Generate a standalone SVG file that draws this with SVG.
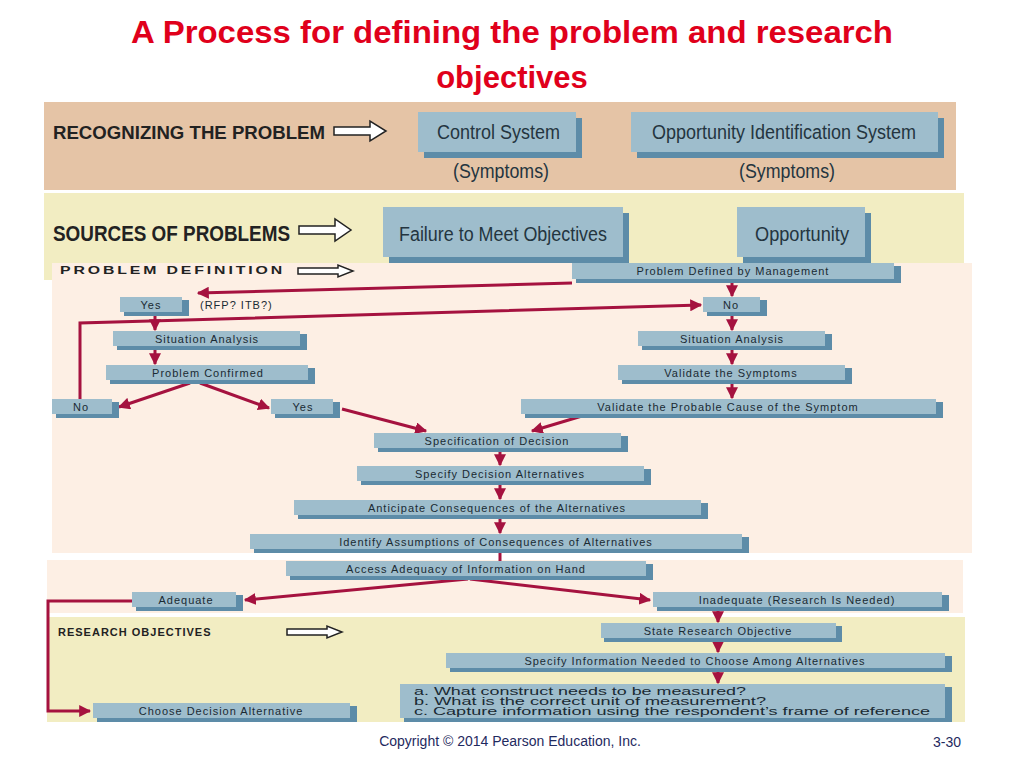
<svg xmlns="http://www.w3.org/2000/svg" width="1024" height="768" viewBox="0 0 1024 768">
<defs>
<style>
.b{fill:#9ebdcc}.s{fill:#5d8ca8}
.t{font-family:"Liberation Sans",Arial,sans-serif;fill:#1a2a33;text-anchor:middle;font-size:11px;letter-spacing:1px}
.l{font-family:"Liberation Sans",Arial,sans-serif;fill:#1a2a33;font-size:11px}
.big{font-family:"Liberation Sans",sans-serif;fill:#243540;font-size:20px}
.hd{font-family:"Liberation Sans",sans-serif;font-weight:bold;fill:#222}
.c{stroke:#a5123f;stroke-width:3;fill:none}
.ha{fill:#fff;stroke:#222;stroke-width:1.5}
</style>
<marker id="a" viewBox="0 0 10 10" refX="9" refY="5" markerWidth="4" markerHeight="4" orient="auto"><path d="M0,0L10,5L0,10z" fill="#a5123f"/></marker>
</defs>
<rect width="1024" height="768" fill="#fff"/>
<text x="512" y="43" text-anchor="middle" font-family="Liberation Sans,sans-serif" font-weight="bold" font-size="31" fill="#e0001b" textLength="762" lengthAdjust="spacingAndGlyphs">A Process for defining the problem and research</text>
<text x="512" y="88" text-anchor="middle" font-family="Liberation Sans,sans-serif" font-weight="bold" font-size="31" fill="#e0001b">objectives</text>
<rect x="44" y="102" width="912" height="88" fill="#e5c4a6"/>
<rect x="44" y="193" width="920" height="87" fill="#f2edc2"/>
<rect x="52" y="263" width="920" height="290" fill="#fdefe4"/>
<rect x="47" y="560" width="916" height="53" fill="#fdefe4"/>
<rect x="47" y="617" width="918" height="105" fill="#f2edc2"/>
<text class="hd" x="53" y="139" font-size="19" textLength="272" lengthAdjust="spacingAndGlyphs">RECOGNIZING THE PROBLEM</text>
<path class="ha" d="M334,127h36v-6l16,10l-16,10v-6h-36z"/>
<text class="hd" x="53" y="241" font-size="22" textLength="237" lengthAdjust="spacingAndGlyphs">SOURCES OF PROBLEMS</text>
<path class="ha" d="M299,226h36v-7l16,11l-16,11v-7h-36z"/>
<text class="hd" x="60" y="274" font-size="11" textLength="225" lengthAdjust="spacingAndGlyphs" letter-spacing="2">PROBLEM  DEFINITION</text>
<path class="ha" d="M298,268h40v-3l15,6l-15,6v-3h-40z" stroke-width="1"/>
<text class="hd" x="58" y="636" font-size="11" letter-spacing="1">RESEARCH OBJECTIVES</text>
<path class="ha" d="M287,629h40v-3l15,6l-15,6v-3h-40z" stroke-width="1"/>
<text x="453" y="178" class="big" font-size="19" textLength="96" lengthAdjust="spacingAndGlyphs">(Symptoms)</text>
<text x="739" y="178" class="big" font-size="19" textLength="96" lengthAdjust="spacingAndGlyphs">(Symptoms)</text>
<text x="200" y="309" font-family="Liberation Sans,sans-serif" font-size="11" letter-spacing="1" fill="#1a2a33">(RFP? ITB?)</text>
<g id="connectors">
<path class="c" marker-end="url(#a)" d="M572,283L198,293"/>
<path class="c" marker-end="url(#a)" d="M80,406V323L701,305"/>
<path class="c" marker-end="url(#a)" d="M732,281v15"/>
<path class="c" marker-end="url(#a)" d="M732,314v16"/>
<path class="c" marker-end="url(#a)" d="M732,348v16"/>
<path class="c" marker-end="url(#a)" d="M732,382v16"/>
<path class="c" marker-end="url(#a)" d="M155,313v17"/>
<path class="c" marker-end="url(#a)" d="M155,348v16"/>
<path class="c" marker-end="url(#a)" d="M190,383L119,407"/>
<path class="c" marker-end="url(#a)" d="M200,383L269,408"/>
<path class="c" marker-end="url(#a)" d="M342,409L426,431"/>
<path class="c" marker-end="url(#a)" d="M582,416L532,431"/>
<path class="c" marker-end="url(#a)" d="M500,450v15"/>
<path class="c" marker-end="url(#a)" d="M500,483v16"/>
<path class="c" marker-end="url(#a)" d="M500,517v16"/>
<path class="c" d="M500,551v10"/>
<path class="c" marker-end="url(#a)" d="M468,579L245,600"/>
<path class="c" marker-end="url(#a)" d="M470,579L650,600"/>
<path class="c" marker-end="url(#a)" d="M132,601H48V711H90"/>
<path class="c" marker-end="url(#a)" d="M718,610v12"/>
<path class="c" marker-end="url(#a)" d="M718,641v11"/>
<path class="c" marker-end="url(#a)" d="M718,671v12"/>
</g>
<g id="n1"><rect class="s" x="424" y="118" width="158" height="40"/><rect class="b" x="418" y="112" width="158" height="40"/><text class="big" x="437" y="139" textLength="123" lengthAdjust="spacingAndGlyphs">Control System</text></g>
<g id="n2"><rect class="s" x="637" y="118" width="307" height="40"/><rect class="b" x="631" y="112" width="307" height="40"/><text class="big" x="652" y="139" textLength="264" lengthAdjust="spacingAndGlyphs">Opportunity Identification System</text></g>
<g id="n3"><rect class="s" x="389" y="213" width="240" height="50"/><rect class="b" x="383" y="207" width="240" height="50"/><text class="big" x="399" y="241" font-size="23" textLength="208" lengthAdjust="spacingAndGlyphs">Failure to Meet Objectives</text></g>
<g id="n4"><rect class="s" x="743" y="213" width="128" height="50"/><rect class="b" x="737" y="207" width="128" height="50"/><text class="big" x="755" y="241" font-size="23" textLength="94" lengthAdjust="spacingAndGlyphs">Opportunity</text></g>
<g id="n5"><rect class="s" x="576" y="266" width="325" height="17"/><rect class="b" x="572" y="263" width="322" height="16"/><text class="t" x="733" y="275">Problem Defined by Management</text></g>
<g id="n6"><rect class="s" x="124" y="300" width="65" height="16"/><rect class="b" x="120" y="297" width="62" height="15"/><text class="t" x="151" y="309">Yes</text></g>
<g id="n7"><rect class="s" x="707" y="300" width="60" height="16"/><rect class="b" x="703" y="297" width="57" height="15"/><text class="t" x="731" y="309">No</text></g>
<g id="n8"><rect class="s" x="117" y="334" width="190" height="16"/><rect class="b" x="113" y="331" width="187" height="15"/><text class="t" x="207" y="343">Situation Analysis</text></g>
<g id="n9"><rect class="s" x="642" y="334" width="190" height="16"/><rect class="b" x="638" y="331" width="187" height="15"/><text class="t" x="732" y="343">Situation Analysis</text></g>
<g id="n10"><rect class="s" x="110" y="368" width="205" height="16"/><rect class="b" x="106" y="365" width="202" height="15"/><text class="t" x="208" y="377">Problem Confirmed</text></g>
<g id="n11"><rect class="s" x="622" y="368" width="230" height="16"/><rect class="b" x="618" y="365" width="227" height="15"/><text class="t" x="731" y="377">Validate the Symptoms</text></g>
<g id="n12"><rect class="s" x="56" y="402" width="63" height="16"/><rect class="b" x="52" y="399" width="60" height="15"/><text class="t" x="81" y="411">No</text></g>
<g id="n13"><rect class="s" x="275" y="402" width="65" height="16"/><rect class="b" x="271" y="399" width="62" height="15"/><text class="t" x="303" y="411">Yes</text></g>
<g id="n14"><rect class="s" x="525" y="402" width="418" height="16"/><rect class="b" x="521" y="399" width="415" height="15"/><text class="t" x="728" y="411">Validate the Probable Cause of the Symptom</text></g>
<g id="n15"><rect class="s" x="378" y="436" width="250" height="16"/><rect class="b" x="374" y="433" width="247" height="15"/><text class="t" x="497" y="445">Specification of Decision</text></g>
<g id="n16"><rect class="s" x="361" y="469" width="290" height="16"/><rect class="b" x="357" y="466" width="287" height="15"/><text class="t" x="500" y="478">Specify Decision Alternatives</text></g>
<g id="n17"><rect class="s" x="298" y="503" width="410" height="16"/><rect class="b" x="294" y="500" width="407" height="15"/><text class="t" x="497" y="512">Anticipate Consequences of the Alternatives</text></g>
<g id="n18"><rect class="s" x="254" y="537" width="495" height="16"/><rect class="b" x="250" y="534" width="492" height="15"/><text class="t" x="496" y="546">Identify Assumptions of Consequences of Alternatives</text></g>
<g id="n19"><rect class="s" x="290" y="564" width="363" height="16"/><rect class="b" x="286" y="561" width="360" height="15"/><text class="t" x="466" y="573" letter-spacing="0.5">Access Adequacy of Information on Hand</text></g>
<g id="n20"><rect class="s" x="136" y="595" width="107" height="16"/><rect class="b" x="132" y="592" width="104" height="15"/><text class="t" x="186" y="604" letter-spacing="0.5">Adequate</text></g>
<g id="n21"><rect class="s" x="657" y="595" width="292" height="16"/><rect class="b" x="653" y="592" width="289" height="15"/><text class="t" x="797" y="604" letter-spacing="0.5">Inadequate (Research Is Needed)</text></g>
<g id="n22"><rect class="s" x="604" y="626" width="238" height="16"/><rect class="b" x="601" y="623" width="235" height="15"/><text class="t" x="718" y="635" letter-spacing="0.5">State Research Objective</text></g>
<g id="n23"><rect class="s" x="450" y="656" width="502" height="16"/><rect class="b" x="446" y="653" width="499" height="15"/><text class="t" x="695" y="665" letter-spacing="0.5">Specify Information Needed to Choose Among Alternatives</text></g>
<g id="n24"><rect class="s" x="404" y="687" width="548" height="35"/><rect class="b" x="400" y="684" width="545" height="34"/>
<text class="l" x="414" y="695" textLength="332" lengthAdjust="spacingAndGlyphs">a.  What construct needs to be measured?</text>
<text class="l" x="414" y="705" textLength="352" lengthAdjust="spacingAndGlyphs">b.  What is the correct unit of measurement?</text>
<text class="l" x="414" y="715" textLength="516" lengthAdjust="spacingAndGlyphs">c.  Capture information using the respondent’s frame of reference</text></g>
<g id="n25"><rect class="s" x="97" y="706" width="260" height="16"/><rect class="b" x="93" y="703" width="257" height="15"/><text class="t" x="221" y="715" letter-spacing="0.5">Choose Decision Alternative</text></g>
<text x="510" y="746" text-anchor="middle" font-family="Liberation Sans,sans-serif" font-size="14" fill="#1f2a60">Copyright © 2014 Pearson Education, Inc.</text>
<text x="947" y="747" text-anchor="middle" font-family="Liberation Sans,sans-serif" font-size="14" fill="#1f2a60">3-30</text>
</svg>
